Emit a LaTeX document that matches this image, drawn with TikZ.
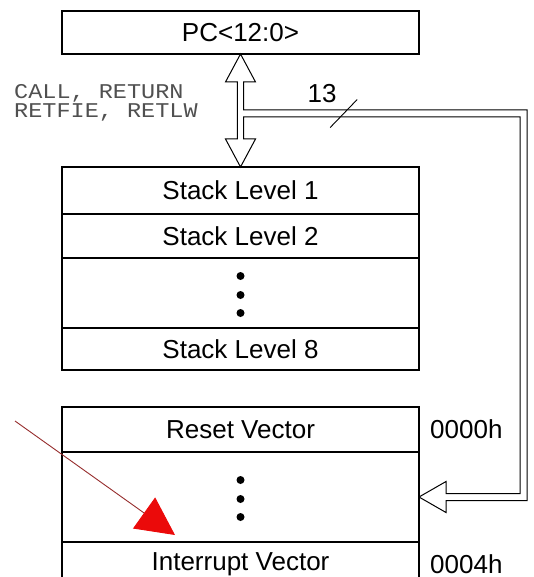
\documentclass[tikz,border=0pt]{standalone}
\usepackage{fontspec}
\setmainfont{Liberation Sans}
\setmonofont{Liberation Mono}
\newfontfamily\opsfont[FakeStretch=1.12]{Liberation Mono}
\usepackage{tikz}
\usetikzlibrary{arrows.meta, positioning, calc}
\definecolor{opgray}{RGB}{80,80,80}
\definecolor{markred}{RGB}{235,10,10}
\definecolor{markline}{RGB}{150,45,45}
\tikzset{
  cell/.style={rectangle, draw, line width=1.1pt, minimum width=357pt,
    inner sep=0pt, outer sep=0pt, font=\fontsize{26pt}{28pt}\selectfont},
  addr/.style={font=\fontsize{26pt}{28pt}\selectfont, inner sep=0pt},
  ops/.style={font=\opsfont\fontsize{21pt}{19pt}\selectfont, text=opgray,
    inner sep=0pt, anchor=base west},
  hollow/.style={draw, line width=1pt, line join=miter},
  marker/.style={-{Triangle[length=38pt, width=38pt, color=markred, fill=markred]},
    markline, line width=0.9pt},
}

\begin{document}
\begin{tikzpicture}[x=1pt, y=-1pt]
  \useasboundingbox (0,0) rectangle (533,577);

  % program counter and stack
  \node[cell, minimum height=43pt] (pc) at (240.5,32.5) {PC<12:0>};
  \node[cell, minimum height=47pt, below=113pt of pc] (lvl1) {Stack Level 1};
  \node[cell, minimum height=44pt, below=0pt of lvl1] (lvl2) {Stack Level 2};
  \node[cell, minimum height=70pt, below=0pt of lvl2] (sdots) {};
  \node[cell, minimum height=42pt, below=0pt of sdots] (lvl8) {Stack Level 8};

  % program memory
  \node[cell, minimum height=45pt, below=37pt of lvl8] (reset) {Reset Vector};
  \node[cell, minimum height=90pt, below=0pt of reset] (vdots) {};
  \node[cell, minimum height=45pt, below=0pt of vdots] (intr) {Interrupt Vector};
  \node[addr, right=11pt of reset] (a0) {0000h};
  \node[addr, right=11pt of intr] (a4) {0004h};

  \foreach \dy in {-17,2,20} {
    \fill ($(sdots.center)+(0,\dy)$) circle (4pt);
    \fill ($(vdots.center)+(0,\dy)$) circle (4pt);
  }

  \node[ops] (ops1) at (14,98.5) {CALL, RETURN};
  \node[ops] (ops2) at (14,117.5) {RETFIE, RETLW};

  % push/pop arrow and 13 bit bus, one outline
  \draw[hollow] (pc.south) -- ++(15,28) -- ++(-11.8,0)
    -- ($(pc.south)+(3.2,56)$)
    -| ($(vdots.east)+(108,3.5)$) -- ($(vdots.east)+(27,3.5)$)
    -- ($(vdots.east)+(27,15.5)$) -- (vdots.east)
    -- ($(vdots.east)+(27,-15.5)$) -- ($(vdots.east)+(27,-3.5)$)
    -- ($(vdots.east)+(101,-3.5)$) |- ($(pc.south)+(3.2,63)$)
    -- ($(lvl1.north)+(3.2,-28)$) -- ++(11.8,0) -- (lvl1.north)
    -- ++(-15,-28) -- ++(11.8,0) -- ($(pc.south)+(-3.2,28)$)
    -- ++(-11.8,0) -- cycle;
  \coordinate (busin) at ($(pc.south)+(3.2,59.5)$);
  \draw[line width=0.9pt] ($(busin)+(86.5,14)$) -- ++(27,-28);
  \node[addr] (width) at ($(busin)+(78.5,-19.5)$) {13};

  % red marker
  \coordinate (redtail) at (15,421);
  \coordinate (redtip) at (175,535);
  \draw[marker] (redtail) -- (redtip);
\end{tikzpicture}
\end{document}
